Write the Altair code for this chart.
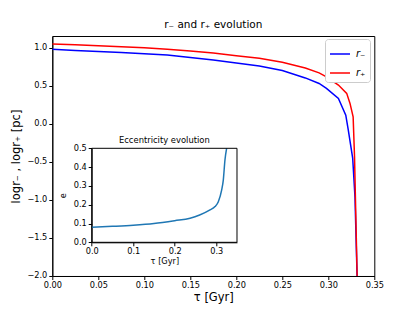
import altair as alt
import pandas as pd

# main curves: tau [Gyr] with log r_- and log r_+ [pc]
tau_m = [0.0, 0.025, 0.05, 0.075, 0.1, 0.125, 0.15, 0.175, 0.2, 0.225, 0.25,
         0.275, 0.29, 0.298, 0.311, 0.319, 0.3217, 0.3265, 0.329, 0.3316]
r_minus = [0.979, 0.965, 0.951, 0.936, 0.921, 0.903, 0.872, 0.84, 0.80, 0.76, 0.70,
           0.603, 0.53, 0.466, 0.334, 0.114, -0.08, -0.45, -0.96, -2.14]
tau_p = [0.0, 0.025, 0.05, 0.075, 0.1, 0.125, 0.15, 0.175, 0.2, 0.225, 0.25,
         0.275, 0.29, 0.298, 0.311, 0.320, 0.3236, 0.327, 0.3285, 0.3316]
r_plus = [1.049, 1.038, 1.026, 1.013, 0.999, 0.98, 0.957, 0.93, 0.896, 0.862, 0.81,
          0.733, 0.67, 0.618, 0.509, 0.40, 0.268, 0.092, -0.43, -2.14]
series_names = ["r\u208b", "r\u208a"]

# inset: eccentricity e vs tau [Gyr]
tau_e = [0.0, 0.05, 0.1, 0.15, 0.2, 0.237, 0.26, 0.285, 0.297, 0.305, 0.313, 0.317, 0.321, 0.325]
ecc = [0.08, 0.085, 0.091, 0.1, 0.115, 0.128, 0.145, 0.172, 0.19, 0.216, 0.278, 0.331, 0.438, 0.5]

x_ticks = [0.0, 0.05, 0.1, 0.15, 0.2, 0.25, 0.3, 0.35]
y_ticks = [-2.0, -1.5, -1.0, -0.5, 0.0, 0.5, 1.0]
ix_ticks = [0.0, 0.1, 0.2, 0.3]
iy_ticks = [0.0, 0.1, 0.2, 0.3, 0.4, 0.5]

main_df = pd.DataFrame({
    "tau": tau_m + tau_p,
    "val": r_minus + r_plus,
    "series": [series_names[0]] * len(tau_m) + [series_names[1]] * len(tau_p),
})
ecc_df = pd.DataFrame({"te": tau_e, "e": ecc})
frame_df = pd.DataFrame({"x0": [0.0], "x1": [0.35], "y0": [0.0], "y1": [0.5],
                         "xm": [0.175], "label": ["Eccentricity evolution"]})

FONT = "DejaVu Sans"
axis_common = dict(grid=False, domainColor="black", tickColor="black", tickSize=3.5,
                   labelColor="black", labelFont=FONT, labelFontSize=8.2,
                   titleFont=FONT, titleColor="black", titleFontWeight="normal",
                   labelPadding=2, domainWidth=1, labelFlush=False, labelOverlap=False)

main = alt.Chart(main_df).mark_line(strokeWidth=1.5, clip=True).encode(
    x=alt.X("tau:Q", scale=alt.Scale(domain=[0, 0.35], nice=False, zero=False),
            axis=alt.Axis(values=x_ticks, format=".2f", title="\u03c4 [Gyr]",
                          titleFontSize=11.5, titlePadding=3, orient="bottom", **axis_common)),
    y=alt.Y("val:Q", scale=alt.Scale(domain=[-2.0, 1.154], nice=False, zero=False),
            axis=alt.Axis(values=y_ticks, format=".1f",
                          title="logr\u208b , logr\u208a [pc]",
                          titleFontSize=11.5, titlePadding=5, orient="left", **axis_common)),
    color=alt.Color("series:N",
                    scale=alt.Scale(domain=series_names, range=["#0000ff", "#ff0000"]),
                    legend=alt.Legend(title=None, orient="none", legendX=272.7, legendY=3,
                                      symbolType="stroke", symbolSize=400, symbolStrokeWidth=1.5,
                                      labelFont=FONT, labelFontSize=10, labelFontStyle="italic",
                                      labelColor="black",
                                      padding=4, rowPadding=3, labelOffset=5,
                                      strokeColor="#cccccc", fillColor="white", cornerRadius=3)),
)

ix_range = [39.4, 184.7]
iy_range = [206.3, 112.3]

inset_line = alt.Chart(ecc_df).mark_line(strokeWidth=1.5, color="#1f77b4", interpolate="monotone").encode(
    x=alt.X("te:Q", scale=alt.Scale(domain=[0, 0.35], range=ix_range, nice=False, zero=False),
            axis=alt.Axis(values=ix_ticks, format=".1f", title="\u03c4 [Gyr]", titleFontSize=8.2,
                          titlePadding=3, orient="bottom", offset=-33.7, **axis_common)),
    y=alt.Y("e:Q", scale=alt.Scale(domain=[0, 0.5], range=iy_range, nice=False, zero=False),
            axis=alt.Axis(values=iy_ticks, format=".1f", title="e", titleFontSize=8.2,
                          titlePadding=6, orient="left", offset=-39.4, **axis_common)),
)

frame = alt.Chart(frame_df).mark_rect(fill=None, stroke="black", strokeWidth=1).encode(
    x=alt.X("x0:Q", scale=alt.Scale(domain=[0, 0.35], range=ix_range, nice=False, zero=False), axis=None),
    x2="x1:Q",
    y=alt.Y("y0:Q", scale=alt.Scale(domain=[0, 0.5], range=iy_range, nice=False, zero=False), axis=None),
    y2="y1:Q",
)

inset_title = alt.Chart(frame_df).mark_text(font=FONT, fontSize=8.4, color="black",
                                            baseline="alphabetic", dy=-5).encode(
    x=alt.X("xm:Q", scale=alt.Scale(domain=[0, 0.35], range=ix_range, nice=False, zero=False), axis=None),
    y=alt.Y("y1:Q", scale=alt.Scale(domain=[0, 0.5], range=iy_range, nice=False, zero=False), axis=None),
    text="label:N",
)

chart = alt.layer(main, inset_line, frame, inset_title).resolve_scale(
    x="independent", y="independent"
).resolve_axis(
    x="independent", y="independent"
).properties(
    width=322, height=240,
    title=alt.Title("r\u208b and r\u208a evolution", font=FONT, fontSize=10.5,
                    fontWeight="normal", color="black", anchor="middle", offset=6),
    autosize=alt.AutoSizeParams(type="none"),
    padding={"left": 44.3, "top": 28, "right": 30, "bottom": 35},
).configure_view(stroke="black", strokeWidth=1)

chart.save("out.html", embed_options={"renderer": "svg", "actions": False})
